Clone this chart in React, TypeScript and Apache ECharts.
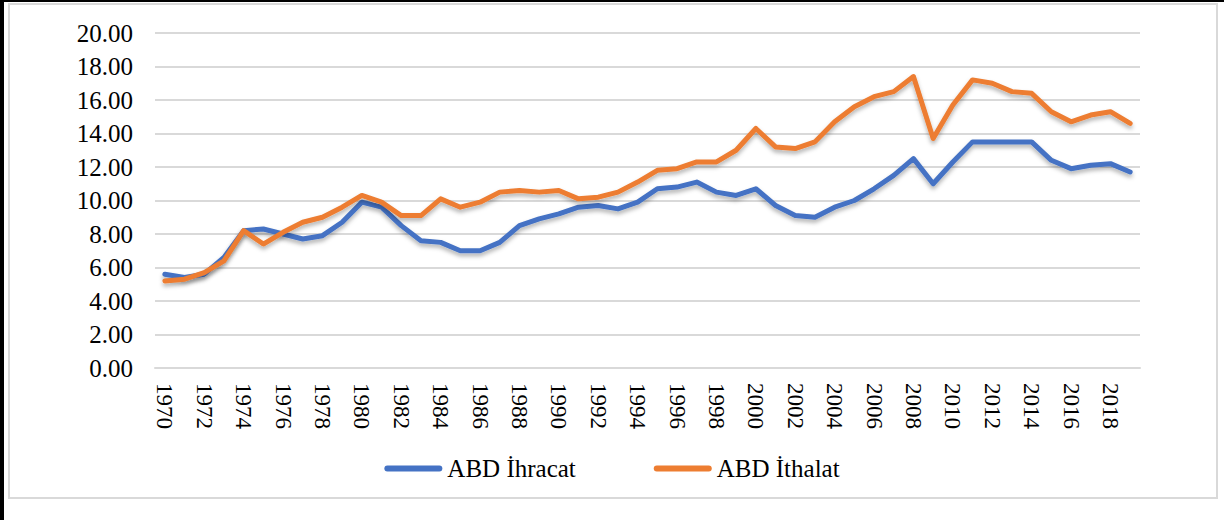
import React, { useEffect, useRef } from "react";
import * as echarts from "echarts";

const years: string[] = [];
for (let y = 1970; y <= 2019; y++) years.push(String(y));

const exportsUS = [
  5.6, 5.4, 5.6, 6.6, 8.2, 8.3, 8.0, 7.7, 7.9, 8.7,
  9.9, 9.6, 8.5, 7.6, 7.5, 7.0, 7.0, 7.5, 8.5, 8.9,
  9.2, 9.6, 9.7, 9.5, 9.9, 10.7, 10.8, 11.1, 10.5, 10.3,
  10.7, 9.7, 9.1, 9.0, 9.6, 10.0, 10.7, 11.5, 12.5, 11.0,
  12.3, 13.5, 13.5, 13.5, 13.5, 12.4, 11.9, 12.1, 12.2, 11.7,
];

const importsUS = [
  5.2, 5.3, 5.7, 6.4, 8.2, 7.4, 8.1, 8.7, 9.0, 9.6,
  10.3, 9.9, 9.1, 9.1, 10.1, 9.6, 9.9, 10.5, 10.6, 10.5,
  10.6, 10.1, 10.2, 10.5, 11.1, 11.8, 11.9, 12.3, 12.3, 13.0,
  14.3, 13.2, 13.1, 13.5, 14.7, 15.6, 16.2, 16.5, 17.4, 13.7,
  15.7, 17.2, 17.0, 16.5, 16.4, 15.3, 14.7, 15.1, 15.3, 14.6,
];

const seriesNames = ["ABD İhracat", "ABD İthalat"];
const colors = ["#4472C4", "#ED7D31"];

const FONT = "'Liberation Serif', 'Times New Roman', serif";

export default function App() {
  const ref = useRef<HTMLDivElement>(null);

  useEffect(() => {
    document.body.style.margin = "0";
    const chart = echarts.init(ref.current!, null, { renderer: "svg" });
    const shadow = {
      shadowColor: "rgba(0,0,0,0.3)",
      shadowBlur: 4,
      shadowOffsetY: 3,
    };
    chart.setOption({
      animation: false,
      backgroundColor: "#fff",
      color: colors,
      textStyle: { fontFamily: FONT },
      graphic: [
        { type: "rect", shape: { x: 9, y: 4, width: 1208, height: 494 }, style: { fill: "none", stroke: "#d9d9d9", lineWidth: 2 } },
        { type: "rect", shape: { x: 0, y: 0, width: 1224, height: 2 }, style: { fill: "#000" } },
        { type: "rect", shape: { x: 0, y: 0, width: 4, height: 520 }, style: { fill: "#000" } },
      ],
      grid: { left: 155, right: 84, top: 33, bottom: 152, containLabel: false },
      legend: {
        data: seriesNames,
        bottom: 34,
        left: "center",
        itemWidth: 58,
        itemHeight: 6,
        itemGap: 78,
        icon: "path://M3,0 L55,0 A3,3 0 0 1 55,6 L3,6 A3,3 0 0 1 3,0 Z",
        textStyle: { fontFamily: FONT, fontSize: 25, color: "#000" },
      },
      xAxis: {
        type: "category",
        data: years,
        boundaryGap: true,
        axisLine: { show: true, lineStyle: { color: "#d9d9d9", width: 2 } },
        axisTick: { show: false },
        axisLabel: {
          interval: 1,
          rotate: -90,
          margin: 15,
          fontFamily: FONT,
          fontSize: 23,
          color: "#000",
        },
      },
      yAxis: {
        type: "value",
        min: 0,
        max: 20,
        interval: 2,
        axisLine: { show: false },
        axisTick: { show: false },
        splitLine: { lineStyle: { color: "#d9d9d9", width: 2 } },
        axisLabel: {
          margin: 22,
          fontFamily: FONT,
          fontSize: 25,
          color: "#000",
          formatter: (v: number) => v.toFixed(2),
        },
      },
      series: [
        {
          name: seriesNames[0],
          type: "line",
          data: exportsUS,
          symbol: "none",
          lineStyle: { width: 5, color: colors[0], cap: "round", join: "round", ...shadow },
        },
        {
          name: seriesNames[1],
          type: "line",
          data: importsUS,
          symbol: "none",
          lineStyle: { width: 5, color: colors[1], cap: "round", join: "round", ...shadow },
        },
      ],
    });
    return () => chart.dispose();
  }, []);

  return <div ref={ref} style={{ width: 1224, height: 520 }} />;
}
